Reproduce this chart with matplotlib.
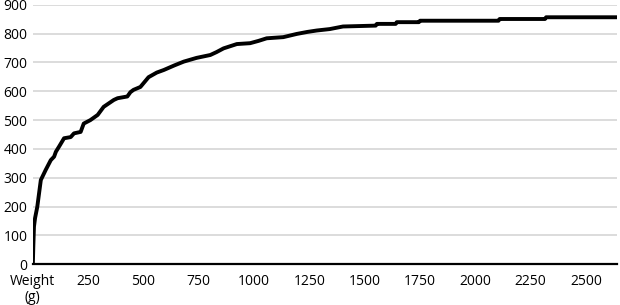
import matplotlib
matplotlib.use("Agg")
import matplotlib.pyplot as plt

weight = [0, 2, 5, 10, 20, 36, 58, 81, 96, 104, 120, 141, 171, 186, 216, 230, 260, 293, 320,
          366, 383, 427, 441, 455, 486, 523, 560, 592, 640, 682, 740, 802, 830, 862, 922, 982,
          1020, 1057, 1132, 1192, 1240, 1283, 1342, 1402, 1550, 1555, 1640, 1645, 1745, 1750,
          2105, 2110, 2315, 2320, 2640]
count = [0, 60, 130, 160, 199, 292, 327, 361, 373, 390, 410, 437, 441, 454, 459, 488, 500, 518, 546,
         570, 576, 582, 597, 605, 615, 649, 665, 674, 690, 703, 716, 726, 736, 749, 764, 767,
         775, 784, 788, 799, 806, 811, 816, 825, 828, 834, 834, 840, 840, 845,
         845, 851, 851, 857, 857]

xticks = [0, 250, 500, 750, 1000, 1250, 1500, 1750, 2000, 2250, 2500]
xtick_labels = ["Weight\n(g)", "250", "500", "750", "1000", "1250", "1500", "1750", "2000", "2250", "2500"]
yticks = [0, 100, 200, 300, 400, 500, 600, 700, 800, 900]

plt.rcParams['font.family'] = ['Open Sans', 'DejaVu Sans']
fig = plt.figure(figsize=(6.2, 3.05), dpi=100)
ax = fig.add_axes([0.053, 0.134, 0.942, 0.85])

ax.plot(weight, count, color='black', lw=2.8, solid_joinstyle='round', zorder=3)
ax.set_xlim(0, 2640)
ax.set_ylim(0, 900)
ax.set_yticks(yticks)
ax.set_xticks(xticks)
ax.set_xticklabels(xtick_labels, linespacing=1.1)
ax.grid(axis='y', color='#d6d6d6', lw=1.2)
ax.set_axisbelow(True)
for s in ['top', 'right', 'left']:
    ax.spines[s].set_visible(False)
ax.spines['bottom'].set_color('black')
ax.spines['bottom'].set_linewidth(1.6)
ax.spines['bottom'].set_zorder(4)
ax.tick_params(axis='both', length=0, labelsize=10, colors='black')
ax.tick_params(axis='x', pad=7)
ax.tick_params(axis='y', pad=4)

fig.savefig("out.png", dpi=100)
